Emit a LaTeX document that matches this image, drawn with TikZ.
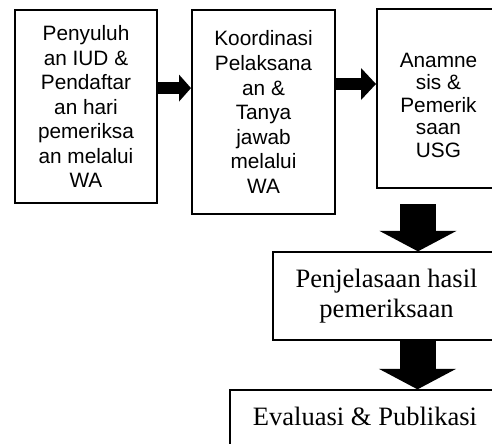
\documentclass[tikz,border=0pt]{standalone}
\usepackage{fontspec}
\newfontfamily\arialfont{Liberation Sans}
\newfontfamily\timesfont{Liberation Serif}
\usepackage{tikz}
\usetikzlibrary{arrows.meta}
\usetikzlibrary{positioning}
\tikzstyle{block} = [rectangle, draw, line width=1.5pt, align=center, font=\arialfont\fontsize{15.6}{18.4}\selectfont]
\tikzstyle{serifblock} = [rectangle, draw, line width=1pt, align=center, font=\timesfont\fontsize{19.9}{22.5}\selectfont]
\tikzstyle{sidearrow} = [draw, line width=9.4pt, -{Triangle[length=9pt, width=20.25pt, line width=0pt]}]
\tikzstyle{downarrow} = [draw, line width=27pt, -{Triangle[length=15.4pt, width=58pt, line width=0pt]}]

\begin{document}
\begin{tikzpicture}[x=0.75pt, y=-0.75pt]
\useasboundingbox (0, 0) rectangle (492, 443);
\clip (0, 0) rectangle (492, 443);

%% top row
\node[block, minimum width=106.5pt, minimum height=144.4pt] at (86, 106.75) (penyuluhan) {Penyuluh\\an IUD \&\\Pendaftar\\an hari\\pemeriksa\\an melalui\\WA};

\node[block, minimum width=107.25pt, minimum height=153pt] at (263.5, 112) (koordinasi) {Koordinasi\\Pelaksana\\an \&\\Tanya\\jawab\\melalui\\WA};

\node[block, minimum width=92.25pt, minimum height=134.25pt, font=\arialfont\fontsize{15.6}{16.9}\selectfont] at (438.5, 98.5) (anamnesis) {\rule{0pt}{21pt}Anamne\\sis \&\\Pemerik\\saan\\USG};

\coordinate (a1) at ([yshift=14pt]penyuluhan.east);
\draw[sidearrow] (a1) -- (a1 -| koordinasi.west);

\coordinate (a2) at ([yshift=21pt]koordinasi.east);
\draw[sidearrow, -{Triangle[length=11.25pt, width=24pt, line width=0pt]}] (a2) -- (a2 -| anamnesis.west);

%% right column
\node[serifblock, minimum width=170.25pt, minimum height=66pt] at (386.5, 296) (penjelasan) {Penjelasaan hasil\\pemeriksaan};

\node[serifblock, minimum width=202.5pt, minimum height=45pt, text depth=6pt] at (365, 420) (evaluasi) {Evaluasi \& Publikasi};

\coordinate (a3) at ([xshift=-15.4pt, yshift=-11.25pt]anamnesis.south);
\draw[downarrow] (a3) -- (a3 |- penjelasan.north);

\coordinate (a4) at ([xshift=23.25pt]penjelasan.south);
\draw[downarrow] (a4) -- (a4 |- evaluasi.north);

\end{tikzpicture}
\end{document}
